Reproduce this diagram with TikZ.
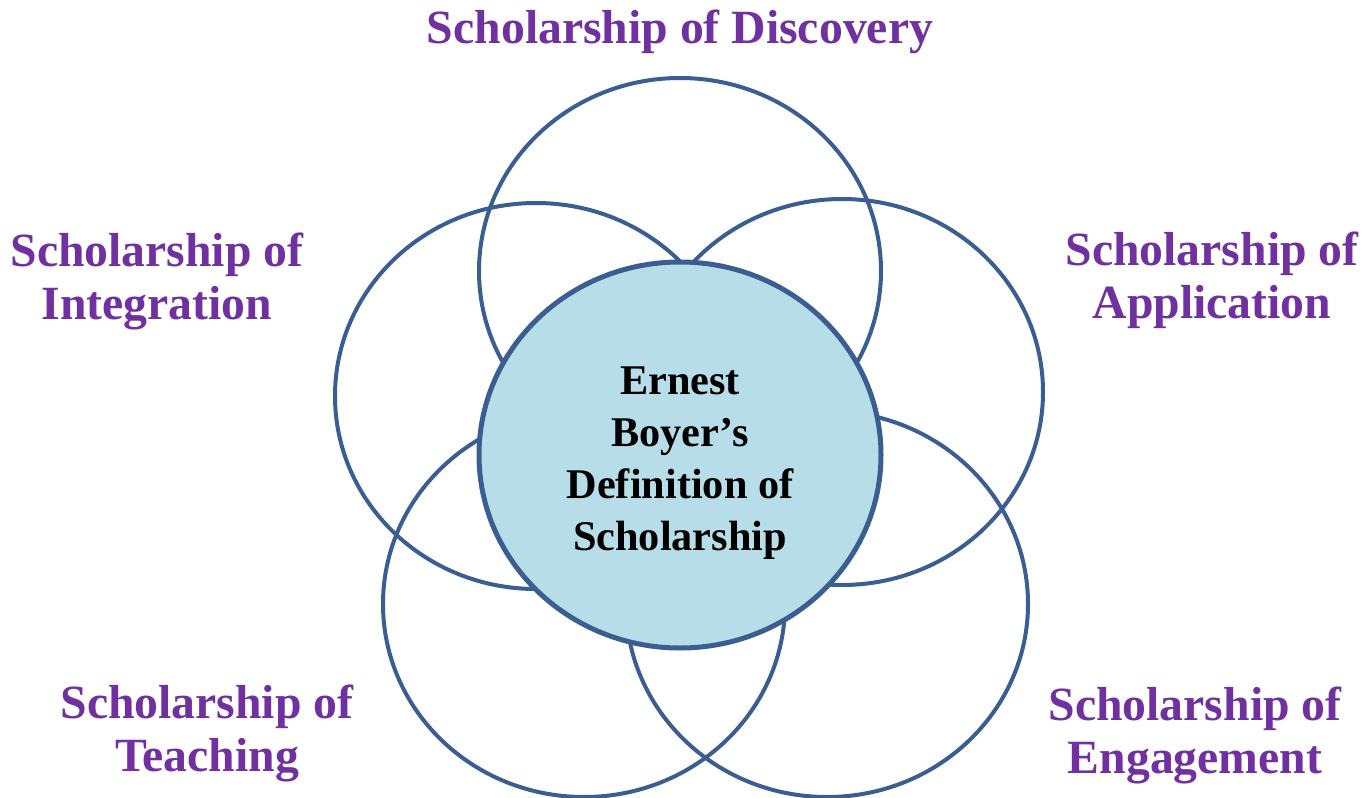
\documentclass[tikz,border=0pt]{standalone}
\usepackage{fontspec}
\setmainfont{Liberation Serif}
\usetikzlibrary{shapes.geometric}
\definecolor{ringblue}{HTML}{3B5E92}
\definecolor{hubfill}{HTML}{B7DEE8}
\definecolor{tagpurple}{HTML}{7030A0}
\begin{document}
\begin{tikzpicture}[x=1pt,y=-1pt,
	ring/.style={ellipse,draw=ringblue,line width=4pt,minimum width=402pt,minimum height=386pt,inner sep=0pt},
	hub/.style={ring,line width=5pt,fill=hubfill},
	tag/.style={text=tagpurple,align=center,inner sep=0pt,font=\bfseries\fontsize{47.7}{53}\selectfont}]
	\useasboundingbox (0,0) rectangle (1366,798);
	\node[ring] (disc) at (680,271) {};
	\node[ring] (integ) at (536,396) {};
	\node[ring] (appl) at (842,392) {};
	\node[ring] (teach) at (584,604) {};
	\node[ring] (engag) at (827,604) {};
	\node[hub] (boyer) at (680,455) {};
	\node[align=center,inner sep=0pt,font=\bfseries\fontsize{42.3}{52}\selectfont] (boyerT) at (680,463) {Ernest\\Boyer’s\\Definition of\\Scholarship};
	\node[tag] (discT) at (680,32) {Scholarship of Discovery};
	\node[tag] (integT) at (157,281) {Scholarship of\\Integration};
	\node[tag] (applT) at (1212,280) {Scholarship of\\Application};
	\node[tag] (teachT) at (207,733) {Scholarship of\\Teaching};
	\node[tag] (engagT) at (1195,735) {Scholarship of\\Engagement};
\end{tikzpicture}
\end{document}
